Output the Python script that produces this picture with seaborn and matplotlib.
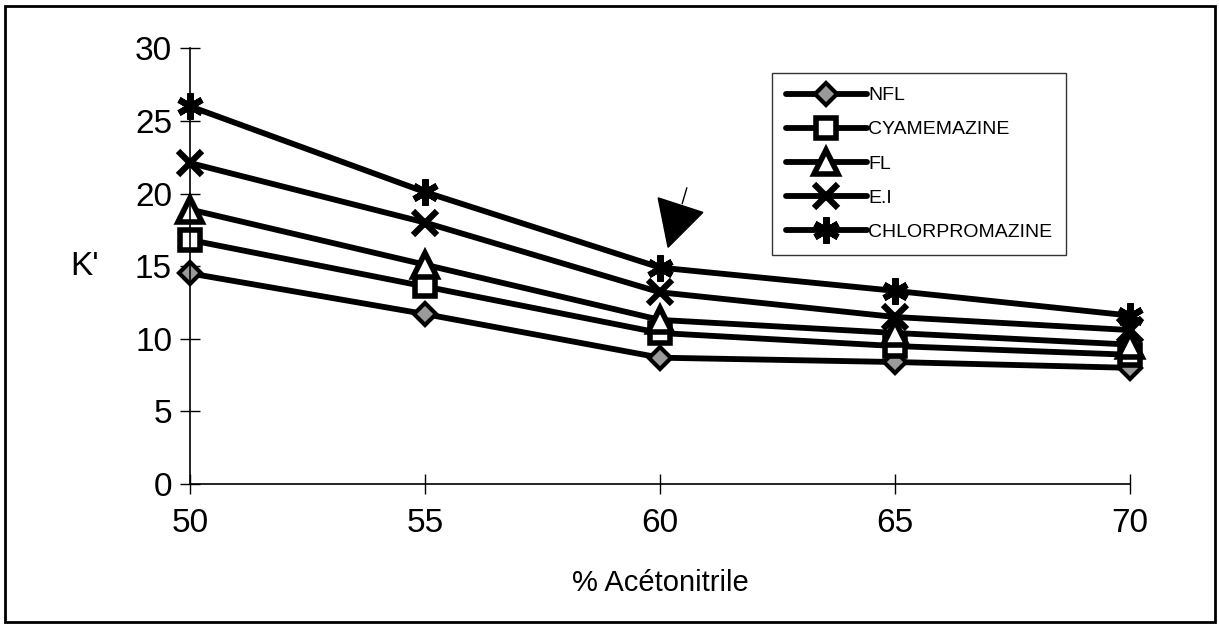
import numpy as np
import pandas as pd
import matplotlib
matplotlib.use("Agg")
import matplotlib.pyplot as plt
from matplotlib.patches import Polygon, Rectangle
import seaborn as sns

# ─── DATA ─────────────────────────────────────────────────────────────────────
acetonitrile = [50, 55, 60, 65, 70]
nfl = [14.5, 11.7, 8.7, 8.4, 8.0]
cyamemazine = [16.8, 13.6, 10.4, 9.5, 8.9]
fl = [18.9, 15.1, 11.3, 10.4, 9.6]
ei = [22.1, 18.0, 13.2, 11.5, 10.6]
chlorpromazine = [26.0, 20.1, 14.9, 13.3, 11.6]

series_names = ["NFL", "CYAMEMAZINE", "FL", "E.I", "CHLORPROMAZINE"]
series_values = [nfl, cyamemazine, fl, ei, chlorpromazine]

y_ticks = [0, 5, 10, 15, 20, 25, 30]

# marker styles per series
marker_styles = {
    "NFL": dict(marker="D", markersize=11, markerfacecolor="#9a9a9a", markeredgewidth=3),
    "CYAMEMAZINE": dict(marker="s", markersize=15, markerfacecolor="white", markeredgewidth=4),
    "FL": dict(marker="^", markersize=17, markerfacecolor="white", markeredgewidth=4),
    "E.I": dict(marker="x", markersize=17, markeredgewidth=4.5),
    "CHLORPROMAZINE": dict(marker=(6, 2, 0), markersize=19, markeredgewidth=4.5),
}

df = pd.DataFrame({
    "x": np.tile(acetonitrile, len(series_names)),
    "k": np.concatenate(series_values),
    "serie": np.repeat(series_names, len(acetonitrile)),
})

# ─── PLOT ─────────────────────────────────────────────────────────────────────
sns.set_style("white")
plt.rcParams["font.family"] = ["Liberation Sans", "DejaVu Sans"]
plt.rcParams["text.color"] = "black"
plt.rcParams["axes.labelcolor"] = "black"

fig = plt.figure(figsize=(12.19, 6.27), dpi=100)
ax = fig.add_axes([0.156, 0.228, 0.771, 0.695])

for name in series_names:
    sub = df[df["serie"] == name]
    sns.lineplot(data=sub, x="x", y="k", ax=ax, color="black", linewidth=4.2,
                 markeredgecolor="black", label=name, clip_on=False,
                 **marker_styles[name])

ax.set_xlim(50, 70)
ax.set_ylim(0, 30)
ax.set_xticks(acetonitrile)
ax.set_yticks(y_ticks)
ax.tick_params(axis="both", direction="inout", length=14, width=1, labelsize=24,
               color="black", labelcolor="black", bottom=True, left=True)
ax.tick_params(axis="x", pad=10)
ax.tick_params(axis="y", pad=6)
for side in ["top", "right"]:
    ax.spines[side].set_visible(False)
for side in ["left", "bottom"]:
    ax.spines[side].set_color("black")
    ax.spines[side].set_linewidth(1.2)

ax.set_xlabel("% Acétonitrile", fontsize=21, labelpad=22)
ax.set_ylabel("K'", fontsize=24, rotation=0, labelpad=36, va="center")

# arrow annotation pointing at 60 %
ax.add_patch(Polygon([[59.96, 19.7], [60.91, 18.7], [60.17, 16.3]], closed=True,
                     facecolor="black", edgecolor="black", clip_on=False))
ax.plot([60.47, 60.57], [19.3, 20.4], color="black", linewidth=1)

leg = ax.legend(loc="upper left", bbox_to_anchor=(0.619, 0.943), fontsize=14,
                frameon=True, fancybox=False, edgecolor="black", handlelength=4.2,
                labelspacing=0.85, borderpad=0.7, handletextpad=0.05,
                borderaxespad=0)
leg.get_frame().set_linewidth(1)
for text in leg.get_texts():
    text.set_color("black")

# outer frame around the figure
fig.patches.append(Rectangle((0.004, 0.008), 0.993, 0.982, transform=fig.transFigure,
                             fill=False, edgecolor="black", linewidth=2))

fig.savefig("out.png", dpi=100)
